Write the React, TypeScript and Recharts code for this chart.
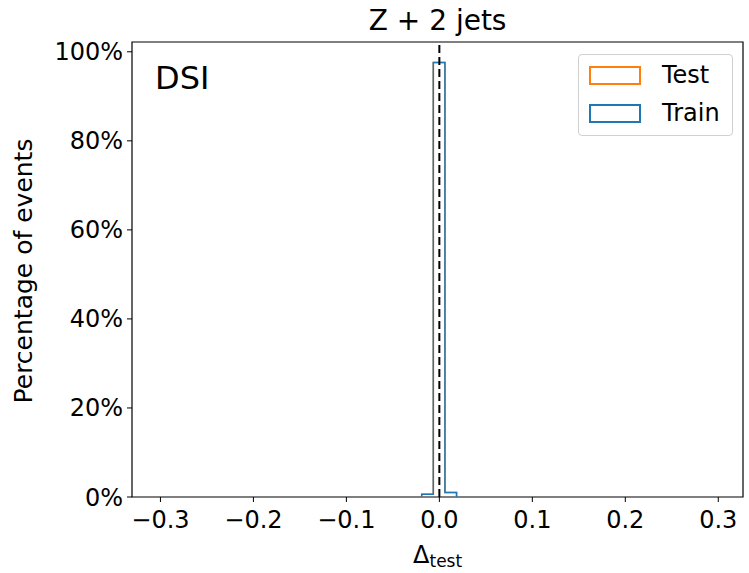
import { ComposedChart, Line, ReferenceArea, ReferenceLine, XAxis, YAxis } from "recharts";

// histogram bins (edges) and percentage per bin
const binEdges = [-0.019, -0.0065, 0.006, 0.0185];
const trainPct = [0.6, 97.6, 1.0];
const testPct = [0.6, 97.6, 1.0];

const xTicks = [-0.3, -0.2, -0.1, 0.0, 0.1, 0.2, 0.3];
const yTicks = [0, 20, 40, 60, 80, 100];
const xDomain = [-0.3306, 0.3266];
const yDomain = [0, 102.2];

const FONT = "DejaVu Sans";

// outline of a step histogram: up at first edge, flat over each bin, down at last edge
function stepRows(edges: number[], train: number[], test: number[]) {
    const rows = [{ x: edges[0], train: 0, test: 0 }];
    for (let i = 0; i < train.length; i++) {
        rows.push({ x: edges[i], train: train[i], test: test[i] });
    }
    rows.push({ x: edges[edges.length - 1], train: 0, test: 0 });
    return rows;
}

function fmtX(v: number) {
    const s = Math.abs(v).toFixed(1);
    return v < -1e-9 ? "\u2212" + s : s;
}

function App() {
    const data = stepRows(binEdges, trainPct, testPct);
    const tickStyle = { fill: "#000", fontSize: 24, fontFamily: FONT };

    return (
        <div style={{ position: "absolute", left: 0, top: 0, width: 749, height: 573, background: "#fff" }}>
            <ComposedChart width={749} height={573} data={data} margin={{ top: 42, right: 6, bottom: 0, left: 0 }}>
                <XAxis
                    dataKey="x"
                    type="number"
                    domain={xDomain}
                    ticks={xTicks}
                    tickFormatter={fmtX}
                    allowDataOverflow
                    height={76}
                    tick={tickStyle}
                    tickSize={5}
                    tickMargin={9}
                    axisLine={false}
                    tickLine={{ stroke: "#000" }}
                />
                <YAxis
                    type="number"
                    domain={yDomain}
                    ticks={yTicks}
                    tickFormatter={(v: number) => v + "%"}
                    allowDataOverflow
                    width={132}
                    tick={tickStyle}
                    tickSize={5}
                    tickMargin={4}
                    axisLine={false}
                    tickLine={{ stroke: "#000" }}
                />
                <Line type="stepAfter" dataKey="test" stroke="#ff7f0e" strokeWidth={1.5} dot={false} isAnimationActive={false} />
                <Line type="stepAfter" dataKey="train" stroke="#1f77b4" strokeWidth={1.5} dot={false} isAnimationActive={false} />
                <ReferenceLine x={0} stroke="#000" strokeWidth={2} strokeDasharray="8 4" />
                <ReferenceArea x1={xDomain[0]} x2={xDomain[1]} y1={yDomain[0]} y2={yDomain[1]} fill="none" stroke="#000" strokeWidth={1.2} ifOverflow="visible" />
            </ComposedChart>

            <svg width={749} height={573} style={{ position: "absolute", left: 0, top: 0, pointerEvents: "none" }}>
                <text x={437.6} y={30} textAnchor="middle" fontSize={28} fontFamily={FONT} fill="#000">Z + 2 jets</text>
                <text x={155} y={89} fontSize={32} fontFamily={FONT} fill="#000">DSI</text>
                <text transform="translate(32,271) rotate(-90)" textAnchor="middle" fontSize={25} fontFamily={FONT} fill="#000">Percentage of events</text>
                <text x={437.6} y={563} textAnchor="middle" fontFamily={FONT} fill="#000">
                    <tspan fontSize={24}>Δ</tspan>
                    <tspan fontSize={17} dy={4}>test</tspan>
                </text>
            </svg>

            <div style={{
                position: "absolute", left: 578, top: 54, width: 153, height: 80,
                border: "1px solid #d0d0d0", borderRadius: 4, background: "rgba(255,255,255,0.8)",
                fontFamily: FONT, fontSize: 24, color: "#000",
            }}>
                {[{ name: "Test", color: "#ff7f0e" }, { name: "Train", color: "#1f77b4" }].map((item, i) => (
                    <div key={item.name} style={{ position: "absolute", left: 10, top: 10 + i * 38, height: 20, display: "flex", alignItems: "center" }}>
                        <div style={{ width: 48, height: 15, border: "2px solid " + item.color, boxSizing: "content-box" }} />
                        <span style={{ marginLeft: 21, lineHeight: "20px" }}>{item.name}</span>
                    </div>
                ))}
            </div>
        </div>
    );
}

export default App;
